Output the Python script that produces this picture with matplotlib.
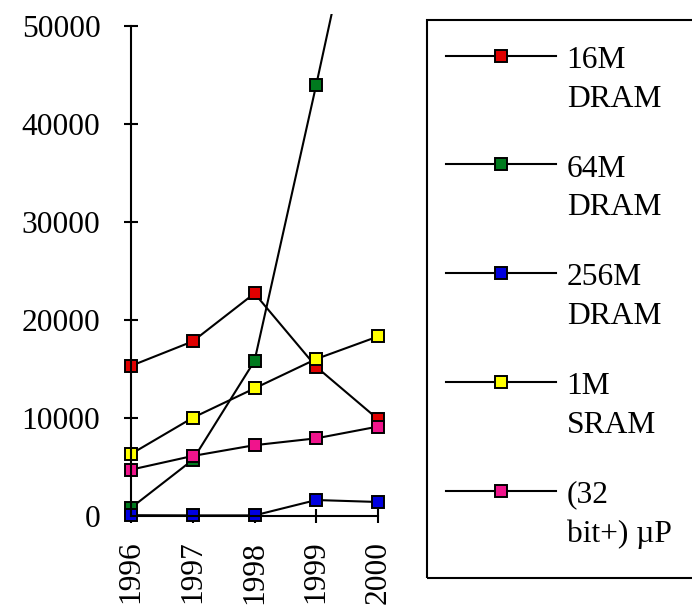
import matplotlib
matplotlib.use("Agg")
import matplotlib.pyplot as plt
from matplotlib.lines import Line2D
from matplotlib.patches import Rectangle

plt.rcParams['font.family'] = ['Liberation Serif', 'DejaVu Serif']

years = ["1996", "1997", "1998", "1999", "2000"]
series_names = ["16M\nDRAM", "64M\nDRAM", "256M\nDRAM", "1M\nSRAM", "(32\nbit+) µP"]
dram16 = [15300, 17800, 22700, 15200, 9850]
dram64 = [800, 5700, 15800, 44000, 73000]
dram256 = [50, 30, 30, 1600, 1400]
sram1 = [6300, 10000, 13000, 16000, 18300]
micro = [4700, 6100, 7200, 7900, 9100]
yticks = [0, 10000, 20000, 30000, 40000, 50000]
ytick_labels = ["0", "10000", "20000", "30000", "40000", "50000"]

colors = ["#E00000", "#007A1E", "#0000E0", "#FFFF00", "#F0148C"]
all_series = [dram16, dram64, dram256, sram1, micro]

FS = 22.7
W, H = 692, 606
fig = plt.figure(figsize=(W / 100, H / 100), dpi=100)
x0, x1 = 131, 378
y0_px, y50_px, ytop_px = 515.7, 26, 14
ax = fig.add_axes([x0 / W, 1 - y0_px / H, (x1 - x0) / W, (y0_px - ytop_px) / H])
ax.set_xlim(0, len(years) - 1)
ax.set_ylim(0, 50000 * (y0_px - ytop_px) / (y0_px - y50_px))

xs = list(range(len(years)))
for vals, c in zip(all_series, colors):
    ax.plot(xs, vals, color="black", lw=1.5, clip_on=True)
    ax.plot(xs, vals, ls="none", marker="s", markersize=8,
            markerfacecolor=c, markeredgecolor="black", markeredgewidth=1.4,
            clip_on=False)

for s in ["top", "right"]:
    ax.spines[s].set_visible(False)
ax.spines["left"].set_bounds(0, 50000)
ax.spines["left"].set_linewidth(1.5)
ax.spines["bottom"].set_linewidth(1.5)

ax.set_yticks(yticks)
ax.set_yticklabels(ytick_labels)
ax.set_xticks(xs)
ax.set_xticklabels(years, rotation=90)
ax.tick_params(direction="inout", length=10, width=1.5, labelsize=FS)
ax.tick_params(axis="y", pad=17)
ax.tick_params(axis="x", pad=13)

# legend box
fig.add_artist(Rectangle((426.7 / W, 1 - 577.7 / H), (720 - 426.7) / W, (577.7 - 20) / H,
                         transform=fig.transFigure, fill=False, lw=1.5,
                         edgecolor="black", clip_on=False))
for i, (name, c) in enumerate(zip(series_names, colors)):
    yp = 55.7 + i * 108.75
    yf = 1 - yp / H
    fig.add_artist(Line2D([446 / W, 556 / W], [yf, yf], color="black", lw=1.5,
                          transform=fig.transFigure))
    fig.add_artist(Line2D([501 / W], [yf], marker="s", markersize=8,
                          markerfacecolor=c, markeredgecolor="black",
                          markeredgewidth=1.4, transform=fig.transFigure))
    fig.text(566.7 / W, 1 - (yp + 51) / H, name, fontsize=FS,
             va="baseline", ha="left", linespacing=1.45)

fig.savefig("out.png", dpi=100)
